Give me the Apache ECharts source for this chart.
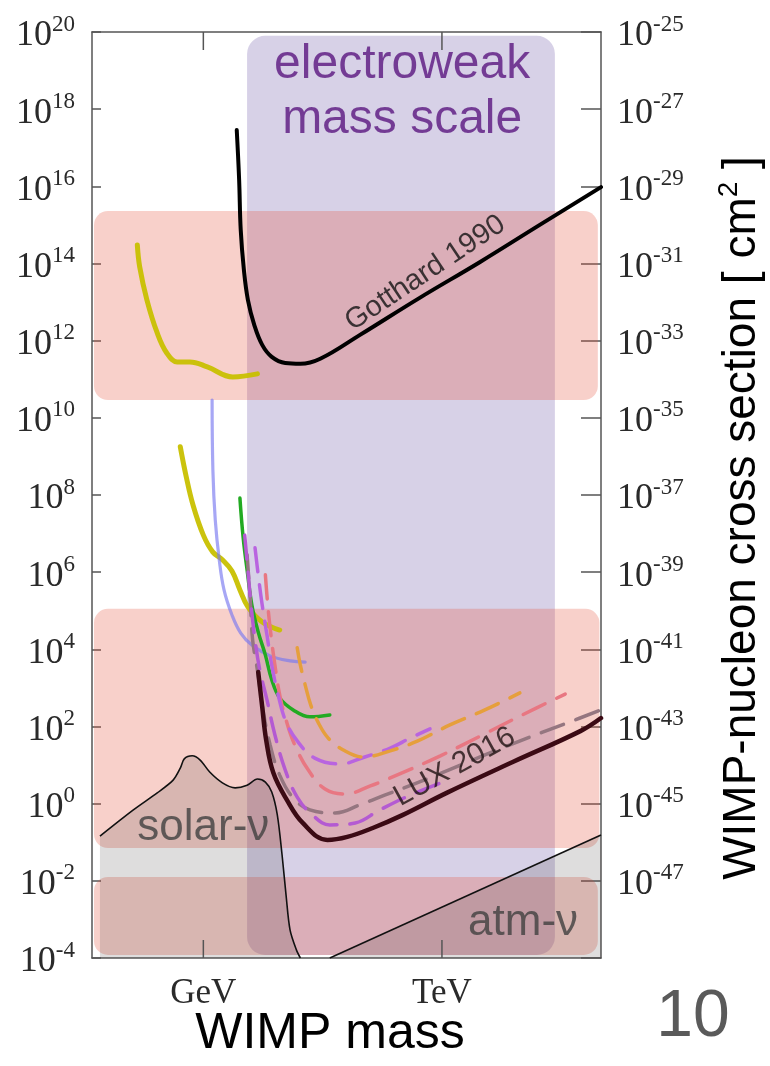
<!DOCTYPE html>
<html>
<head>
<meta charset="utf-8">
<script src="https://cdn.jsdelivr.net/npm/echarts@6.0.0/dist/echarts.min.js"></script>
<style>
  html, body { margin: 0; padding: 0; background: #fff; }
  #main { width: 770px; height: 1066px; }
</style>
</head>
<body>
<div id="main"></div>
<script>
// all values are log10: x = log10(mass / GeV), y = log10(left-axis quantity)
const massTickValues = [0, 3];
const massTickNames = ['GeV', 'TeV'];
const sigmaShift = 45; // right axis exponent = left exponent - 45
const massMin = -1.4, massMax = 5;
const rateMin = -4, rateMax = 20;

// Gotthard 1990
const gotthardMass = [0.42, 0.45, 0.47, 0.51, 0.56, 0.64, 0.74, 0.86, 1.03, 1.22, 1.47, 1.97, 2.72, 3.48, 4.23, 5.0];
const gotthardRate = [17.46, 16.17, 14.87, 13.83, 13.06, 12.41, 11.89, 11.58, 11.42, 11.40, 11.53, 12.15, 13.11, 14.04, 15.0, 15.98];
// yellow, upper and lower
const yellowHiMass = [-0.83, -0.80, -0.71, -0.58, -0.46, -0.33, -0.17, 0.05, 0.37, 0.68];
const yellowHiRate = [14.48, 13.91, 13.06, 12.2, 11.68, 11.45, 11.45, 11.32, 11.06, 11.14];
const yellowLoMass = [-0.29, -0.22, -0.13, 0.0, 0.12, 0.24, 0.36, 0.46, 0.56, 0.74, 0.96];
const yellowLoRate = [9.25, 8.52, 7.74, 6.96, 6.52, 6.32, 6.03, 5.54, 5.10, 4.71, 4.50];
// light blue
const blueMass = [0.11, 0.12, 0.15, 0.20, 0.26, 0.36, 0.47, 0.61, 0.84, 1.09, 1.28];
const blueRate = [10.46, 8.65, 7.35, 6.32, 5.54, 4.89, 4.42, 4.11, 3.83, 3.70, 3.67];
// green
const greenMass = [0.46, 0.50, 0.55, 0.61, 0.69, 0.78, 0.86, 0.96, 1.13, 1.34, 1.59];
const greenRate = [7.92, 6.91, 6.06, 5.15, 4.45, 3.85, 3.21, 2.74, 2.43, 2.25, 2.30];
// LUX 2016
const luxMass = [0.69, 0.74, 0.79, 0.88, 1.05, 1.25, 1.56, 1.81, 2.13, 2.51, 3.06, 3.89, 4.74, 5.0];
const luxRate = [3.41, 2.51, 1.65, 0.80, 0.10, -0.50, -0.94, -0.86, -0.63, -0.29, 0.28, 1.08, 1.88, 2.22];
// dashed projections
const orangeMass = [1.18, 1.22, 1.28, 1.35, 1.44, 1.57, 1.76, 2.01, 2.35, 2.69, 3.10, 3.54, 3.98];
const orangeRate = [4.04, 3.59, 3.08, 2.56, 2.12, 1.70, 1.39, 1.21, 1.37, 1.62, 2.04, 2.43, 2.87];
const violetMass = [0.65, 0.69, 0.74, 0.80, 0.86, 0.94, 1.04, 1.19, 1.40, 1.72, 2.03, 2.35, 2.60, 2.85];
const violetRate = [6.63, 5.93, 5.15, 4.37, 3.59, 2.82, 2.12, 1.60, 1.18, 1.03, 1.21, 1.44, 1.70, 1.94];
const roseMass = [0.78, 0.81, 0.85, 0.90, 0.96, 1.04, 1.15, 1.32, 1.53, 1.78, 2.10, 2.41, 2.98, 3.48, 4.01, 4.55];
const roseRate = [5.93, 5.15, 4.37, 3.59, 2.82, 2.17, 1.52, 0.87, 0.38, 0.25, 0.46, 0.72, 1.24, 1.75, 2.30, 2.84];
const mauveMass = [0.55, 0.59, 0.62, 0.68, 0.75, 0.84, 0.96, 1.13, 1.34, 1.66, 1.97, 2.28, 2.85, 3.48, 4.11, 4.61, 5.0];
const mauveRate = [6.45, 5.28, 4.24, 3.46, 2.43, 1.52, 0.74, 0.15, -0.16, -0.24, -0.03, 0.22, 0.67, 1.21, 1.73, 2.12, 2.43];
const lilacMass = [0.52, 0.56, 0.60, 0.65, 0.71, 0.80, 0.90, 1.03, 1.18, 1.37, 1.59, 1.91, 2.22, 2.60, 3.01];
const lilacRate = [6.96, 6.06, 5.15, 4.24, 3.46, 2.69, 1.78, 0.87, 0.17, -0.29, -0.55, -0.50, -0.16, 0.22, 0.56];
// neutrino floors
const solarMass = [-1.30, -0.88, -0.58, -0.38, -0.29, -0.24, -0.14, -0.04, 0.08, 0.24, 0.40, 0.55, 0.68, 0.78, 0.86, 0.93, 0.99, 1.04, 1.09, 1.17, 1.22];
const solarRate = [-0.84, -0.16, 0.28, 0.61, 0.92, 1.16, 1.24, 1.13, 0.82, 0.54, 0.41, 0.48, 0.64, 0.56, 0.30, -0.29, -1.33, -2.37, -3.27, -3.79, -4];
const atmMass = [1.59, 5.0];
const atmRate = [-4, -0.81];
// shaded bands: [massFrom, massTo, rateFrom, rateTo]
const electroweakBand = [[0.55, 4.42, -3.92, 19.9]];
const pinkBands = [[-1.375, 4.96, 10.46, 15.36], [-1.375, 4.98, -1.15, 5.05], [-1.375, 4.96, -3.92, -1.90]];

const serif = 'Liberation Serif';
const sans = 'Liberation Sans';
const axisGray = { color: '#555', width: 1.5 };

const pair = (xs, ys) => xs.map((x, i) => [x, ys[i]]);

function curve(xs, ys, color, width, dash) {
  return {
    type: 'line', data: pair(xs, ys), showSymbol: false, silent: true,
    smooth: 0.4, z: 5,
    lineStyle: { color: color, width: width, type: dash || 'solid', cap: 'round' }
  };
}

function floorArea(xs, ys) {
  return {
    type: 'line', data: pair(xs, ys), showSymbol: false, silent: true,
    smooth: 0.3, z: 3,
    lineStyle: { color: '#111', width: 1.6 },
    areaStyle: { origin: 'start', color: 'rgba(70,60,60,0.25)' }
  };
}

function bands(data, fill, r, z) {
  return {
    type: 'custom', data: data, silent: true, z: z,
    encode: { x: [0, 1], y: [2, 3] },
    renderItem: function (params, api) {
      const p0 = api.coord([api.value(0), api.value(3)]);
      const p1 = api.coord([api.value(1), api.value(2)]);
      return {
        type: 'rect',
        shape: { x: p0[0], y: p0[1], width: p1[0] - p0[0], height: p1[1] - p0[1], r: r },
        style: { fill: fill }
      };
    }
  };
}

// GeV / TeV ticks on the bottom and top frame, pointing inward
function massTicks(values) {
  return {
    type: 'custom', data: values.map(v => [v, rateMin]), silent: true, z: 4,
    encode: { x: 0, y: 1 },
    renderItem: function (params, api) {
      const lo = api.coord([api.value(0), rateMin]);
      const hi = api.coord([api.value(0), rateMax]);
      return {
        type: 'group',
        children: [
          { type: 'line', shape: { x1: lo[0], y1: lo[1], x2: lo[0], y2: lo[1] - 18 }, style: { stroke: axisGray.color, lineWidth: axisGray.width } },
          { type: 'line', shape: { x1: hi[0], y1: hi[1], x2: hi[0], y2: hi[1] + 18 }, style: { stroke: axisGray.color, lineWidth: axisGray.width } }
        ]
      };
    }
  };
}

function note(text, x, y, rot, style) {
  return {
    type: 'scatter', data: [[x, y]], symbolSize: 1, silent: true, z: 10,
    itemStyle: { color: 'transparent' },
    label: Object.assign({ show: true, position: 'inside', rotate: rot, formatter: text }, style)
  };
}

function massName(v) {
  const i = massTickValues.indexOf(v);
  return i < 0 ? '' : massTickNames[i];
}

const powRich = {
  b: { fontFamily: serif, fontSize: 36, lineHeight: 46, color: '#2a2a2a' },
  e: { fontFamily: serif, fontSize: 23, lineHeight: 23, verticalAlign: 'top', color: '#2a2a2a' }
};

const chart = echarts.init(document.getElementById('main'));
chart.setOption({
  animation: false,
  backgroundColor: '#fff',
  grid: { left: 92, right: 169, top: 32, bottom: 108 },
  xAxis: [
    {
      type: 'value', position: 'bottom', min: massMin, max: massMax,
      axisLine: { onZero: false, lineStyle: axisGray },
      axisTick: { show: false },
      axisLabel: {
        customValues: massTickValues, margin: 18,
        fontFamily: serif, fontSize: 35, color: '#2a2a2a',
        formatter: massName
      },
      splitLine: { show: false }
    },
    {
      type: 'value', position: 'top', min: massMin, max: massMax,
      axisLine: { onZero: false, lineStyle: axisGray },
      axisTick: { show: false },
      axisLabel: { show: false },
      splitLine: { show: false }
    }
  ],
  yAxis: [
    {
      type: 'value', position: 'left', min: rateMin, max: rateMax, interval: 2,
      axisLine: { show: true, onZero: false, lineStyle: axisGray },
      axisTick: { inside: true, length: 9, lineStyle: axisGray },
      axisLabel: { margin: 17, padding: [8, 0, 0, 0], formatter: v => '{b|10}{e|' + v + '}', rich: powRich },
      splitLine: { show: false }
    },
    {
      type: 'value', position: 'right', min: rateMin, max: rateMax, interval: 2,
      axisLine: { show: true, onZero: false, lineStyle: axisGray },
      axisTick: { inside: true, length: 20, lineStyle: axisGray },
      axisLabel: {
        margin: 16, padding: [8, 0, 0, 0], rich: powRich,
        formatter: v => v === rateMin ? '' : '{b|10}{e|' + (v - sigmaShift) + '}'
      },
      splitLine: { show: false }
    }
  ],
  series: [
    bands(electroweakBand, 'rgba(110,90,170,0.28)', 18, 1),
    bands(pinkBands, 'rgba(230,80,60,0.27)', 14, 2),
    floorArea(solarMass, solarRate),
    floorArea(atmMass, atmRate),
    massTicks(massTickValues),
    curve(gotthardMass, gotthardRate, '#000', 4),
    curve(yellowHiMass, yellowHiRate, 'rgba(200,192,0,0.95)', 5),
    curve(yellowLoMass, yellowLoRate, 'rgba(200,192,0,0.95)', 5),
    curve(blueMass, blueRate, 'rgba(120,120,240,0.65)', 3.2),
    curve(greenMass, greenRate, '#22aa22', 3.5),
    curve(mauveMass, mauveRate, '#957680', 3.5, [24, 13]),
    curve(lilacMass, lilacRate, '#b45ad2', 3.5, [24, 13]),
    curve(roseMass, roseRate, '#e87782', 3.5, [24, 13]),
    curve(violetMass, violetRate, '#b964e0', 3.5, [24, 13]),
    curve(orangeMass, orangeRate, '#e69f3c', 3.5, [24, 13]),
    curve(luxMass, luxRate, '#3b0a14', 4.5),
    note('electroweak\nmass scale', 2.5, 18.45, 0, { fontFamily: sans, fontSize: 48, lineHeight: 55, color: '#5a1580', align: 'center' }),
    note('Gotthard 1990', 2.79, 13.75, 33.7, { fontFamily: sans, fontSize: 29, color: '#111' }),
    note('LUX 2016', 3.16, 0.95, 29, { fontFamily: sans, fontSize: 30, color: '#1e1010' }),
    note('solar-ν', 0.0, -0.62, 0, { fontFamily: sans, fontSize: 44, color: '#404040' }),
    note('atm-ν', 4.02, -3.08, 0, { fontFamily: sans, fontSize: 44, color: '#404040' })
  ],
  graphic: [
    {
      type: 'text', x: 330, y: 1034,
      style: { text: 'WIMP mass', fontFamily: sans, fontSize: 50, fill: '#000', align: 'center', verticalAlign: 'middle' }
    },
    {
      type: 'text', x: 742, y: 518, rotation: Math.PI / 2,
      style: {
        text: '{a|WIMP-nucleon cross section [ cm}{s|2}{a| ]}',
        align: 'center', verticalAlign: 'middle',
        rich: {
          a: { fontFamily: sans, fontSize: 46, lineHeight: 54, fill: '#000' },
          s: { fontFamily: sans, fontSize: 28, lineHeight: 28, verticalAlign: 'top', fill: '#000' }
        }
      }
    },
    {
      type: 'text', x: 693, y: 1018,
      style: { text: '10', fontFamily: sans, fontSize: 66, fill: '#5a5a5a', align: 'center', verticalAlign: 'middle' }
    }
  ]
});
</script>
</body>
</html>
